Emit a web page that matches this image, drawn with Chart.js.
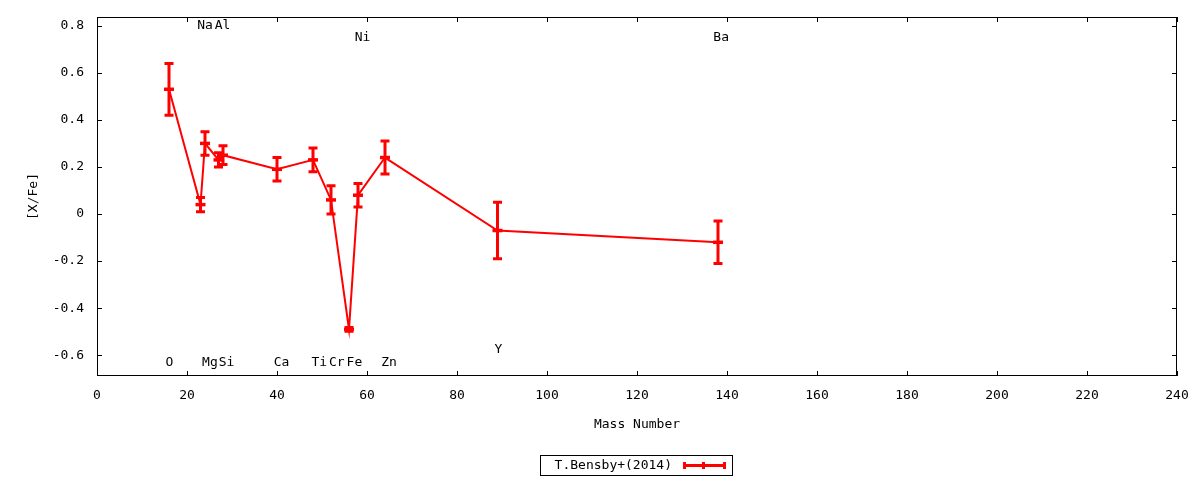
<!DOCTYPE html>
<html>
<head>
<meta charset="utf-8">
<script src="https://cdn.jsdelivr.net/npm/chart.js@4/dist/chart.umd.min.js"></script>
<style>
  html, body { margin: 0; padding: 0; background: #fff; }
  #wrap { width: 1200px; height: 480px; }
</style>
</head>
<body>
<div id="wrap"><canvas id="c" width="1200" height="480"></canvas></div>
<script>
// ---- data ----
const elements    = ['O', 'Na', 'Mg', 'Al', 'Si', 'Ca', 'Ti', 'Cr', 'Fe', 'Ni', 'Zn', 'Y', 'Ba'];
const massNumbers = [16, 23, 24, 27, 28, 40, 48, 52, 56, 58, 64, 89, 138];
const xFe         = [0.53, 0.04, 0.30, 0.23, 0.25, 0.19, 0.23, 0.06, -0.49, 0.08, 0.24, -0.07, -0.12];
const xFeErr      = [0.11, 0.03, 0.05, 0.03, 0.04, 0.05, 0.05, 0.06, 0.008, 0.05, 0.07, 0.12, 0.09];
const labelX      = [16.1, 24.0, 25.1, 27.9, 28.8, 41.0, 49.4, 53.3, 57.2, 59.0, 64.9, 89.2, 138.7];
const labelY      = [-0.63, 0.8, -0.63, 0.8, -0.63, -0.63, -0.63, -0.63, -0.63, 0.75, -0.63, -0.575, 0.75];
const seriesName  = 'T.Bensby+(2014)';
const xTitle = 'Mass Number';
const yTitle = '[X/Fe]';

const RED = '#ff0000';
const FONT = "'DejaVu Sans Mono', monospace";
Chart.defaults.font.family = FONT;
Chart.defaults.font.size = 13;
Chart.defaults.color = '#000';

const points = massNumbers.map((m, i) => ({ x: m, y: xFe[i] }));

const gnuplotPlugin = {
  id: 'gnuplotStyle',
  afterDatasetsDraw(chart) {
    const ctx = chart.ctx;
    const xs = chart.scales.x, ys = chart.scales.y;
    ctx.save();
    ctx.strokeStyle = RED;
    ctx.lineCap = 'butt';
    for (let i = 0; i < massNumbers.length; i++) {
      const px = xs.getPixelForValue(massNumbers[i]);
      const py = ys.getPixelForValue(xFe[i]);
      const top = ys.getPixelForValue(xFe[i] + xFeErr[i]);
      const bot = ys.getPixelForValue(xFe[i] - xFeErr[i]);
      ctx.lineWidth = 3;
      ctx.beginPath();
      ctx.moveTo(px, top); ctx.lineTo(px, bot);
      ctx.moveTo(px - 4.5, top); ctx.lineTo(px + 4.5, top);
      ctx.moveTo(px - 4.5, bot); ctx.lineTo(px + 4.5, bot);
      ctx.stroke();
      ctx.beginPath();
      ctx.lineWidth = 3.5;
      ctx.moveTo(px - 5, py); ctx.lineTo(px + 5, py);
      ctx.stroke();
    }
    ctx.restore();
  },
  afterDraw(chart) {
    const ctx = chart.ctx;
    const a = chart.chartArea;
    const xs = chart.scales.x, ys = chart.scales.y;
    ctx.save();
    // frame
    ctx.strokeStyle = '#000';
    ctx.lineWidth = 1;
    ctx.strokeRect(Math.round(a.left) + 0.5, Math.round(a.top) + 0.5,
                   Math.round(a.right - a.left) - 1, Math.round(a.bottom - a.top) - 1);
    // inward ticks, mirrored
    const L = 5;
    ctx.beginPath();
    xs.ticks.forEach(t => {
      const p = Math.round(xs.getPixelForValue(t.value)) + 0.5;
      ctx.moveTo(p, a.bottom); ctx.lineTo(p, a.bottom - L);
      ctx.moveTo(p, a.top); ctx.lineTo(p, a.top + L);
    });
    ys.ticks.forEach(t => {
      const p = Math.round(ys.getPixelForValue(t.value)) + 0.5;
      ctx.moveTo(a.left, p); ctx.lineTo(a.left + L, p);
      ctx.moveTo(a.right, p); ctx.lineTo(a.right - L, p);
    });
    ctx.stroke();
    // element labels
    ctx.fillStyle = '#000';
    ctx.font = "13px " + FONT;
    ctx.textAlign = 'center';
    ctx.textBaseline = 'middle';
    elements.forEach((el, i) => {
      ctx.fillText(el, xs.getPixelForValue(labelX[i]), ys.getPixelForValue(labelY[i]));
    });
    // legend box
    const bx = 540, by = 455, bw = 192, bh = 20;
    ctx.strokeRect(bx + 0.5, by + 0.5, bw, bh);
    ctx.textAlign = 'right';
    ctx.fillText(seriesName, 672, by + bh / 2 + 1);
    ctx.strokeStyle = RED;
    ctx.lineWidth = 3;
    const ly = by + bh / 2 + 0.5;
    ctx.beginPath();
    ctx.moveTo(683, ly); ctx.lineTo(726, ly);
    ctx.moveTo(684.5, ly - 3.5); ctx.lineTo(684.5, ly + 3.5);
    ctx.moveTo(724.5, ly - 3.5); ctx.lineTo(724.5, ly + 3.5);
    ctx.moveTo(703.5, ly - 3.5); ctx.lineTo(703.5, ly + 3.5);
    ctx.stroke();
    ctx.restore();
  }
};

new Chart(document.getElementById('c'), {
  type: 'scatter',
  data: {
    datasets: [{
      label: seriesName,
      data: points,
      showLine: true,
      borderColor: RED,
      backgroundColor: RED,
      borderWidth: 2,
      pointRadius: 0,
      pointHoverRadius: 0,
      tension: 0
    }]
  },
  options: {
    responsive: false,
    devicePixelRatio: 1,
    animation: false,
    layout: { padding: { left: 0, top: 17, right: 23, bottom: 48 } },
    plugins: { legend: { display: false }, tooltip: { enabled: false } },
    scales: {
      x: {
        type: 'linear',
        min: 0, max: 240,
        grid: { display: false, drawTicks: false },
        border: { display: false },
        ticks: { stepSize: 20, padding: 12, maxRotation: 0, autoSkip: false,
                 callback: v => String(v) },
        title: { display: true, text: xTitle, padding: { top: 0, bottom: 0 } },
        afterFit: s => { s.height = 56; s.paddingLeft = 0; s.paddingRight = 0; }
      },
      y: {
        type: 'linear',
        min: -0.688, max: 0.837,
        grid: { display: false, drawTicks: false },
        border: { display: false },
        ticks: { stepSize: 0.2, padding: 13, includeBounds: false,
                 callback: v => String(Math.round(v * 10) / 10) },
        title: { display: true, text: yTitle, padding: { top: 26, bottom: 0 } },
        afterFit: s => { s.width = 97; s.paddingTop = 0; s.paddingBottom = 0; }
      }
    }
  },
  plugins: [gnuplotPlugin]
});
</script>
</body>
</html>
